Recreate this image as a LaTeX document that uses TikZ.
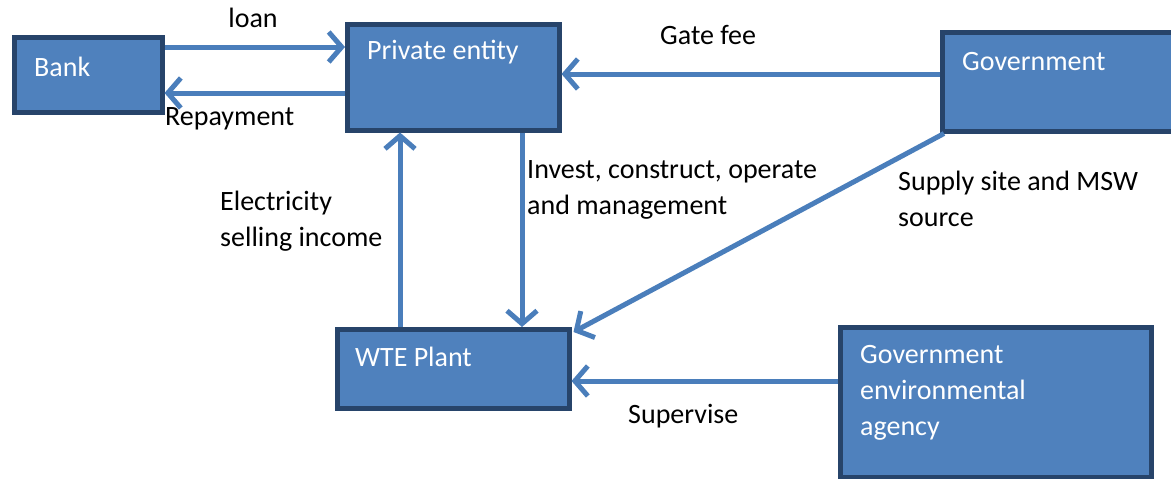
\documentclass[tikz,border=0pt]{standalone}
\usepackage{fontspec}
\setmainfont{Carlito}
\usetikzlibrary{arrows.meta,calc}
\definecolor{boxfill}{HTML}{4F81BD}
\definecolor{boxline}{HTML}{27446A}
\definecolor{arrowblue}{HTML}{4A7EBB}
\begin{document}
\begin{tikzpicture}[x=1pt,y=-1pt,
  font=\fontsize{28}{36}\selectfont,
  box/.style={draw=boxline, fill=boxfill, line width=4.5pt, anchor=north west, inner sep=0pt},
  boxtext/.style={text=white, anchor=west, align=left, inner sep=0pt},
  lbl/.style={text=black, anchor=west, align=left, inner sep=0pt},
  arr/.style={draw=arrowblue, line width=5pt,
    -{Straight Barb[length=13pt,width=30pt,line width=5pt]}}]
\useasboundingbox (0,0) rectangle (1171,479);

% boxes (outer edge given by position + size)
\node[box, minimum width=148pt, minimum height=75pt] (bank) at (12,35) {};
\node[box, minimum width=212pt, minimum height=106pt] (pe) at (345,22) {};
\node[box, minimum width=240pt, minimum height=99pt] (gov) at (940,30) {};
\node[box, minimum width=232pt, minimum height=79pt] (wte) at (335,327) {};
\node[box, minimum width=311pt, minimum height=150pt] (gea) at (838,325) {};

% box captions
\node[boxtext] (tbank) at (34,67) {Bank};
\node[boxtext] (tpe) at (367,52) {Private entity};
\node[boxtext] (tgov) at (962,62) {Government};
\node[boxtext] (twte) at (355,357) {WTE Plant};
\node[boxtext, anchor=north west] (tgea) at (860,345) {Government\\environmental\\agency};

% connectors
\draw[arr] (bank.east |- 0,47) -- (pe.west |- 0,47);
\draw[arr] (pe.west |- 0,93) -- (bank.east |- 0,93);
\draw[arr] (gov.west |- 0,74) -- (pe.east |- 0,74);
\draw[arr] (wte.north -| 400,0) -- (pe.south -| 400,0);
\draw[arr] (pe.south -| 522,0) -- (wte.north -| 522,0);
\draw[arr] ($(gov.south west)+(4,0)$) -- ($(wte.north east)+(2,5)$);
\draw[arr] (gea.west |- 0,381) -- (wte.east |- 0,381);

% connector labels
\node[lbl, anchor=center] (lloan) at (253,18) {loan};
\node[lbl] (lrep) at (165,119) {Repayment};
\node[lbl] (lgate) at (660,35) {Gate fee};
\node[lbl, anchor=north west] (lelec) at (220,191) {Electricity\\selling income};
\node[lbl, anchor=north west] (linv) at (527,160) {Invest, construct, operate\\and management};
\node[lbl, anchor=north west] (lsup) at (898,171) {Supply site and MSW\\source};
\node[lbl] (lsv) at (628,416) {Supervise};
\end{tikzpicture}
\end{document}
